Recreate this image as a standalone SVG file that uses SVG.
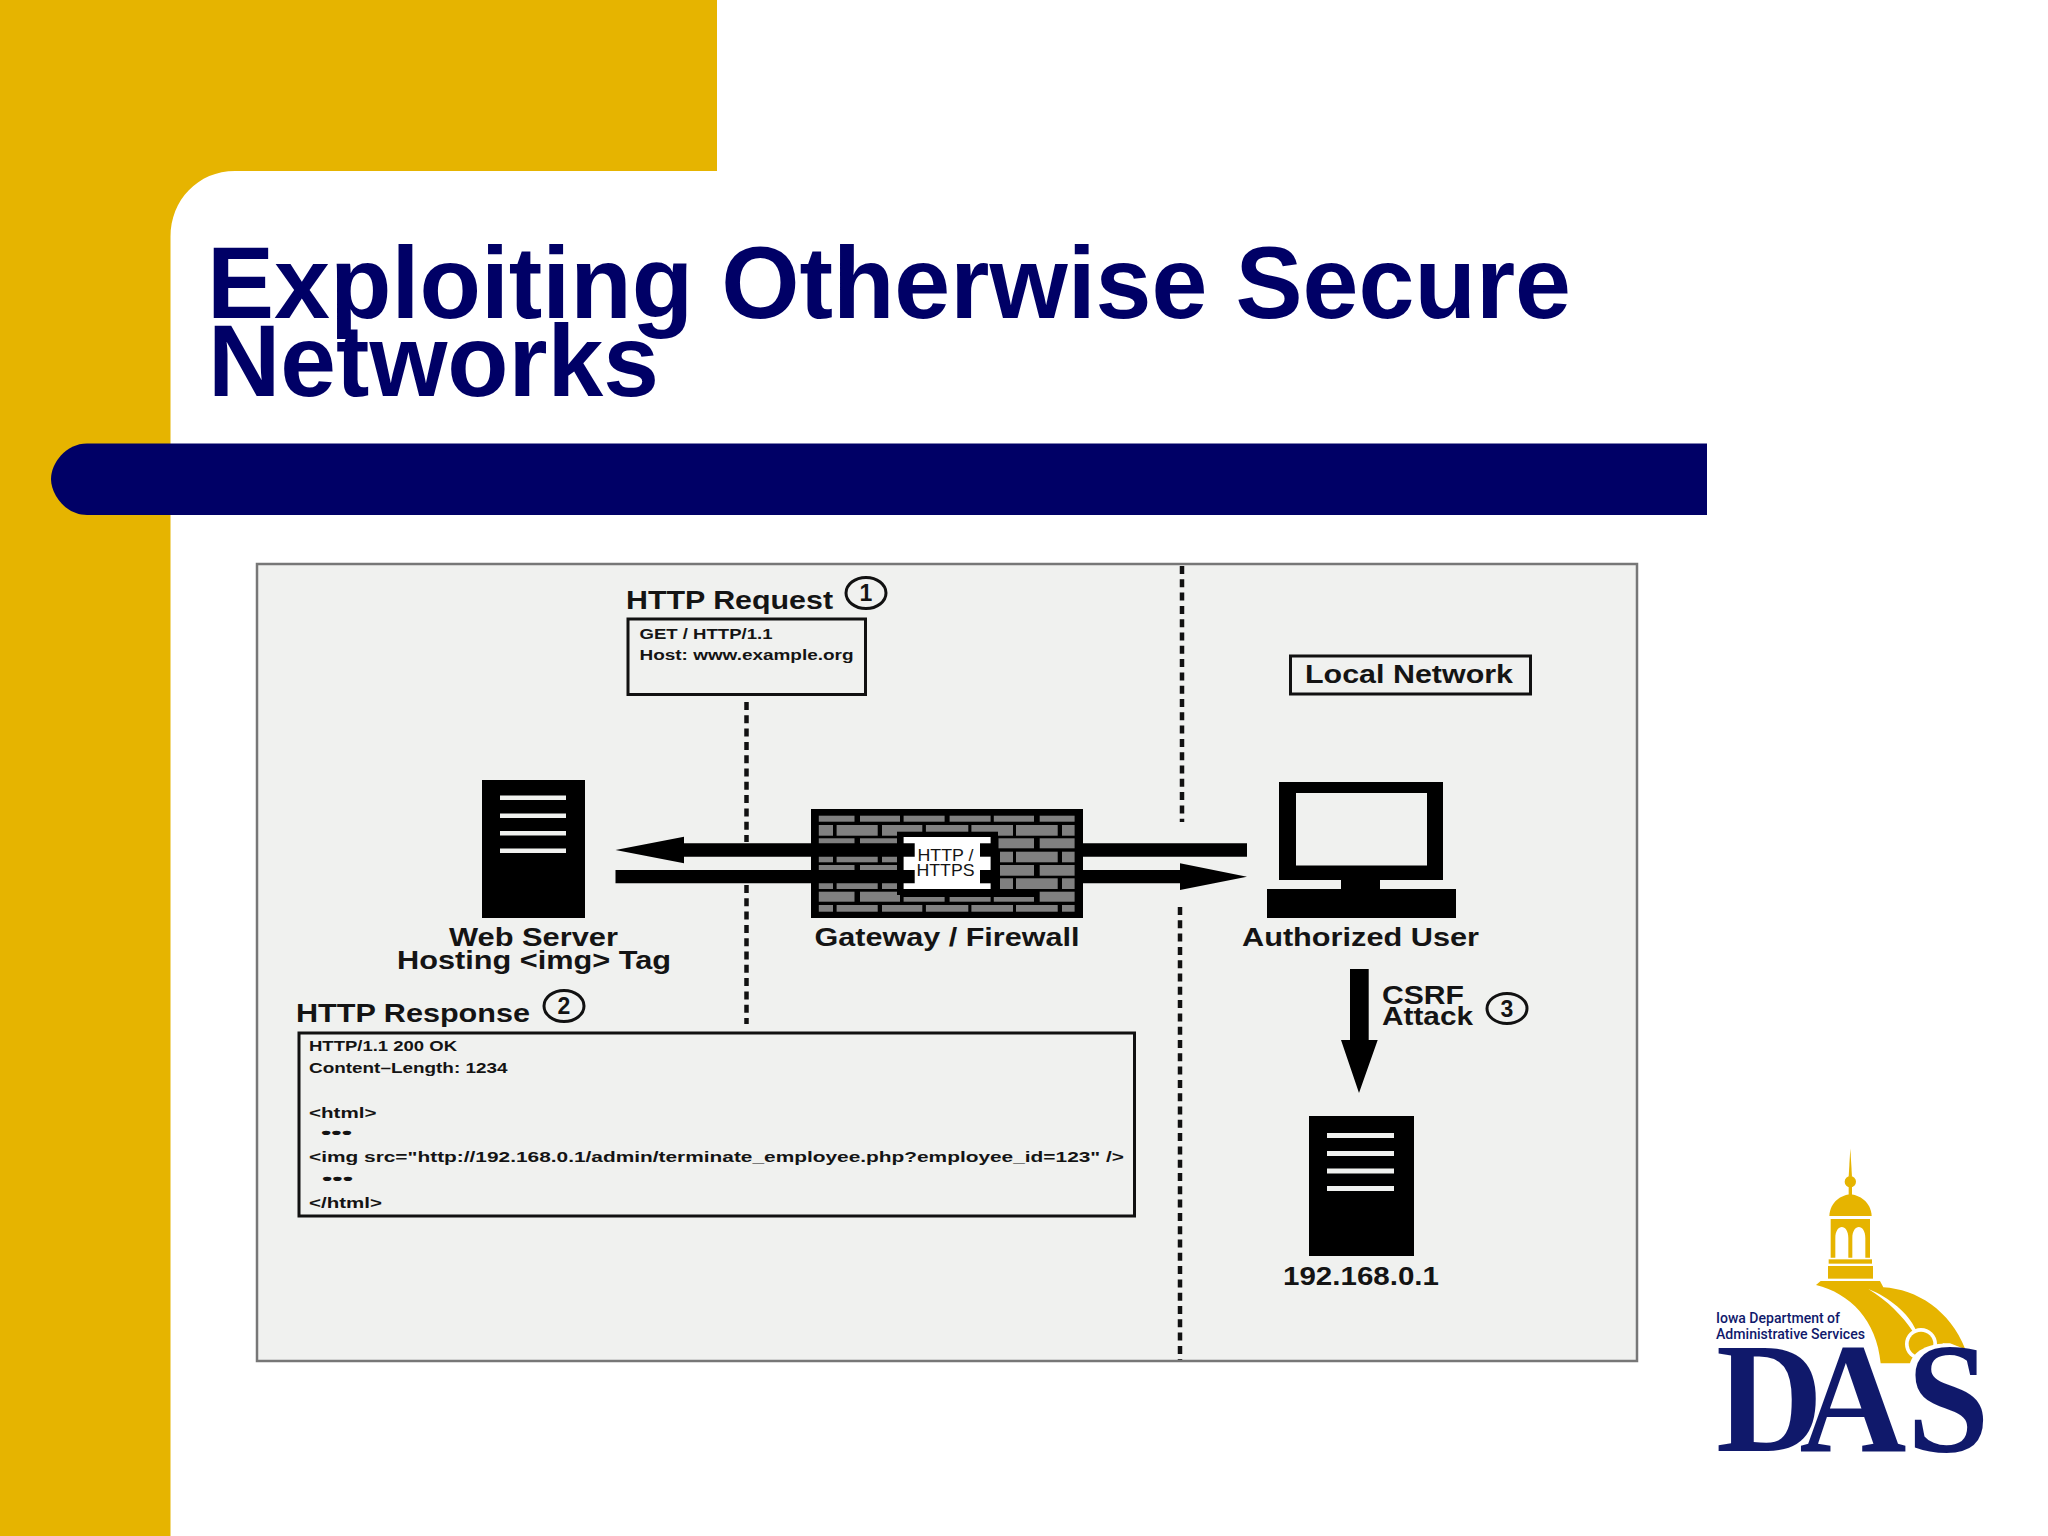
<svg xmlns="http://www.w3.org/2000/svg" width="2048" height="1536" viewBox="0 0 2048 1536">
<style>
text{font-family:"Liberation Sans",Arial,sans-serif;font-weight:bold;fill:#141414}
.title{font-size:102px;fill:#000066}
.lab{font-size:25px}
.sm{font-size:14.5px}
.num{font-size:23px;text-anchor:middle}
.box{fill:#f0f1ef;stroke:#111;stroke-width:3}
.blk{fill:#000}
.ring{fill:none;stroke:#111;stroke-width:3}
.dash{stroke:#111;stroke-width:4.5;stroke-dasharray:8 5.3;fill:none}
.line{fill:#f0f1ef}
.b{fill:#808080}
.gold{fill:#e6b400}
.tag{font-family:Roboto,"Liberation Sans",sans-serif;font-size:15.5px;font-weight:500;fill:#10196b}
</style>
<rect width="2048" height="1536" fill="#fff"/>
<g id="background">
<path class="gold" d="M0 0H717V171H235C198 171 170.500 200 170.500 237V1536H0Z"/>
<path d="M87 443.500H1707V515H87C66 515 51 495 51 479C51 463 66 443.500 87 443.500Z" fill="#000066"/>
</g>
<g id="title">
<text class="title" x="207" y="318" textLength="1364" lengthAdjust="spacingAndGlyphs">Exploiting Otherwise Secure</text>
<text class="title" x="208" y="396" textLength="451" lengthAdjust="spacingAndGlyphs">Networks</text>
</g>
<rect id="panel" x="257" y="564" width="1380" height="797" fill="#f0f1ef" stroke="#777" stroke-width="2.5"/>
<g id="boundaries">
<line class="dash" x1="1182" y1="566" x2="1182" y2="822"/>
<line class="dash" x1="1180" y1="907" x2="1180" y2="1360"/>
<line class="dash" x1="746.5" y1="702" x2="746.5" y2="842"/>
<line class="dash" x1="746.5" y1="885" x2="746.5" y2="1024"/>
</g>
<g id="http-request">
<text class="lab" x="626" y="609" textLength="207" lengthAdjust="spacingAndGlyphs">HTTP Request</text>
<ellipse class="ring" cx="866" cy="593" rx="20" ry="15.500"/>
<text class="num" x="866" y="601">1</text>
<rect class="box" x="628" y="619" width="237.500" height="75.500"/>
<text class="sm" x="639.500" y="638.500" textLength="133" lengthAdjust="spacingAndGlyphs">GET / HTTP/1.1</text>
<text class="sm" x="639.500" y="660" textLength="214" lengthAdjust="spacingAndGlyphs">Host: www.example.org</text>
</g>
<g id="local-network">
<rect class="box" x="1290.500" y="656" width="240" height="38"/>
<text class="lab" x="1305" y="683" textLength="208" lengthAdjust="spacingAndGlyphs">Local Network</text>
</g>
<g id="web-server">
<rect class="blk" x="482" y="780" width="103" height="138"/>
<rect class="line" x="500" y="795.500" width="66" height="4.500"/>
<rect class="line" x="500" y="813.500" width="66" height="4.500"/>
<rect class="line" x="500" y="831" width="66" height="4.500"/>
<rect class="line" x="500" y="848.500" width="66" height="4.500"/>
<text class="lab" x="449" y="946" textLength="169" lengthAdjust="spacingAndGlyphs">Web Server</text>
<text class="lab" x="397" y="969" textLength="274" lengthAdjust="spacingAndGlyphs">Hosting &lt;img&gt; Tag</text>
</g>
<g id="firewall">
<rect class="blk" x="811" y="809" width="272" height="109"/>
<g class="b">
<rect x="818.800" y="815.700" width="35.700" height="6"/><rect x="860" y="815.700" width="40" height="6"/><rect x="903.600" y="815.700" width="41" height="6"/><rect x="949.600" y="815.700" width="41" height="6"/><rect x="993.800" y="815.700" width="40.200" height="6"/><rect x="1039.700" y="815.700" width="34.900" height="6"/>
<rect x="818.800" y="825" width="14.200" height="10.700"/><rect x="836.600" y="825" width="41.100" height="10.700"/><rect x="882" y="825" width="40.300" height="10.700"/><rect x="925.900" y="825" width="42.400" height="10.700"/><rect x="971.400" y="825" width="41.600" height="10.700"/><rect x="1016" y="825" width="41.700" height="10.700"/><rect x="1062" y="825" width="12.600" height="10.700"/>
<rect x="818.800" y="838.300" width="35.700" height="10"/><rect x="860" y="838.300" width="37" height="10"/><rect x="998.500" y="838.300" width="35.500" height="10"/><rect x="1039.700" y="838.300" width="34.900" height="10"/>
<rect x="818.800" y="851.700" width="14.200" height="10.600"/><rect x="836.600" y="851.700" width="41.100" height="10.600"/><rect x="882" y="851.700" width="15" height="10.600"/><rect x="1000" y="851.700" width="13" height="10.600"/><rect x="1016" y="851.700" width="41.700" height="10.600"/><rect x="1062" y="851.700" width="12.600" height="10.600"/>
<rect x="818.800" y="865" width="35.700" height="10.700"/><rect x="860" y="865" width="37" height="10.700"/><rect x="1000" y="865" width="34" height="10.700"/><rect x="1039.700" y="865" width="34.900" height="10.700"/>
<rect x="818.800" y="878.300" width="14.200" height="10.700"/><rect x="836.600" y="878.300" width="41.100" height="10.700"/><rect x="882" y="878.300" width="15" height="10.700"/><rect x="1000" y="878.300" width="13" height="10.700"/><rect x="1016" y="878.300" width="41.700" height="10.700"/><rect x="1062" y="878.300" width="12.600" height="10.700"/>
<rect x="818.800" y="891.700" width="35.700" height="10"/><rect x="860" y="891.700" width="40" height="10"/><rect x="903.600" y="897" width="41" height="4.700"/><rect x="949.600" y="897" width="41" height="4.700"/><rect x="993.800" y="897" width="40.200" height="4.700"/><rect x="1039.700" y="891.700" width="34.900" height="10"/>
<rect x="818.800" y="905" width="14.200" height="6.700"/><rect x="836.600" y="905" width="41.100" height="6.700"/><rect x="882" y="905" width="40.300" height="6.700"/><rect x="925.900" y="905" width="42.400" height="6.700"/><rect x="971.400" y="905" width="41.600" height="6.700"/><rect x="1016" y="905" width="41.700" height="6.700"/><rect x="1062" y="905" width="12.600" height="6.700"/>
</g>
<rect class="blk" x="897" y="831.700" width="101" height="63.300"/>
<rect x="903.600" y="837" width="87" height="52" fill="#fff"/>
<rect class="blk" x="980" y="843.300" width="18" height="13.400"/>
<rect class="blk" x="980" y="870" width="18" height="13.300"/>
<text x="945.500" y="861" font-size="16.500" text-anchor="middle" textLength="56" lengthAdjust="spacingAndGlyphs" style="font-weight:normal">HTTP /</text>
<text x="945.500" y="876" font-size="16.500" text-anchor="middle" textLength="58" lengthAdjust="spacingAndGlyphs" style="font-weight:normal">HTTPS</text>
<text class="lab" x="814.500" y="945.500" textLength="265" lengthAdjust="spacingAndGlyphs">Gateway / Firewall</text>
</g>
<g id="authorized-user">
<rect class="blk" x="1279" y="782" width="164" height="98"/>
<rect x="1296" y="793" width="131" height="72.500" fill="#f0f1ef"/>
<rect class="blk" x="1341" y="880" width="39" height="9"/>
<rect class="blk" x="1267" y="889" width="189" height="29"/>
<text class="lab" x="1242" y="946" textLength="237" lengthAdjust="spacingAndGlyphs">Authorized User</text>
</g>
<g id="target-server">
<rect class="blk" x="1309" y="1116" width="105" height="140"/>
<rect class="line" x="1327" y="1133" width="67" height="5"/>
<rect class="line" x="1327" y="1151" width="67" height="5"/>
<rect class="line" x="1327" y="1168.500" width="67" height="5"/>
<rect class="line" x="1327" y="1186" width="67" height="5"/>
<text class="lab" x="1283" y="1285" textLength="156" lengthAdjust="spacingAndGlyphs">192.168.0.1</text>
</g>
<g id="connectors">
<path class="blk" d="M615.500 850L684 836.700V843.300H914.700V856.700H684V863.300Z"/>
<path class="blk" d="M615.500 870H914.700V883.300H615.500Z"/>
<path class="blk" d="M1083 843.300H1247V856.700H1083Z"/>
<path class="blk" d="M1083 870H1180V863.300L1247 876.700L1180 890V883.300H1083Z"/>
<path class="blk" d="M1350 969H1368.700V1040H1377.700L1359 1093L1341 1040H1350Z"/>
</g>
<g id="csrf-label">
<text class="lab" x="1382" y="1003.500" textLength="82" lengthAdjust="spacingAndGlyphs">CSRF</text>
<text class="lab" x="1382" y="1024.500" textLength="91" lengthAdjust="spacingAndGlyphs">Attack</text>
<ellipse class="ring" cx="1507" cy="1008.500" rx="20" ry="15"/>
<text class="num" x="1507" y="1016.500">3</text>
</g>
<g id="http-response">
<text class="lab" x="296" y="1022" textLength="234" lengthAdjust="spacingAndGlyphs">HTTP Response</text>
<ellipse class="ring" cx="564" cy="1006" rx="20" ry="15.500"/>
<text class="num" x="564" y="1014">2</text>
<rect class="box" x="299" y="1033" width="835.500" height="183"/>
<text class="sm" x="309" y="1051" textLength="148" lengthAdjust="spacingAndGlyphs">HTTP/1.1 200 OK</text>
<text class="sm" x="309" y="1073" textLength="198.500" lengthAdjust="spacingAndGlyphs">Content–Length: 1234</text>
<text class="sm" x="309" y="1117.500" textLength="67.500" lengthAdjust="spacingAndGlyphs">&lt;html&gt;</text>
<text class="sm" x="321" y="1137.500" textLength="31" lengthAdjust="spacingAndGlyphs">•••</text>
<text class="sm" x="309" y="1162" textLength="815" lengthAdjust="spacingAndGlyphs">&lt;img src="http://192.168.0.1/admin/terminate_employee.php?employee_id=123" /&gt;</text>
<text class="sm" x="322" y="1184" textLength="31" lengthAdjust="spacingAndGlyphs">•••</text>
<text class="sm" x="309" y="1208" textLength="73" lengthAdjust="spacingAndGlyphs">&lt;/html&gt;</text>
</g>
<g id="logo">
<g transform="translate(1690 1130) scale(.33333)">
<path class="gold" d="M481 55L486 140H476Z"/>
<circle class="gold" cx="481" cy="155" r="17"/>
<rect class="gold" x="476" y="168" width="10" height="28"/>
<path class="gold" d="M418 258C420 215 455 195 481 193C507 195 543 215 545 258Z"/>
<path class="gold" fill-rule="evenodd" d="M422 267H540V383H422ZM436 383V325C436 280 475 280 475 325V383ZM487 383V325C487 280 526 280 526 325V383Z"/>
<rect class="gold" x="416" y="388" width="130" height="13"/>
<rect class="gold" x="414" y="408" width="135" height="38"/>
<path class="gold" d="M378 465L392 453H570L580 472C680 478 780 540 826 658L760 640L680 700H572C560 570 480 490 378 465Z"/>
<path d="M535 477C600 503 655 550 678 600L668 604C640 560 590 510 535 477Z" fill="#fff"/>
<circle cx="693" cy="642" r="48" fill="#fff"/>
<circle class="gold" cx="693" cy="642" r="37"/>
<path d="M660 700C670 665 710 640 780 640L826 658L800 720H660Z" fill="#fff"/>
</g>
<text class="tag" x="1716" y="1323" textLength="124" lengthAdjust="spacingAndGlyphs">Iowa Department of</text>
<text class="tag" x="1716" y="1339" textLength="149" lengthAdjust="spacingAndGlyphs">Administrative Services</text>
<text transform="translate(1716 1451) scale(.95 1)" x="0 88 201" y="0" font-size="156" style="font-family:'Liberation Serif','Times New Roman',serif;fill:#10196b">DAS</text>
</g>
</svg>
